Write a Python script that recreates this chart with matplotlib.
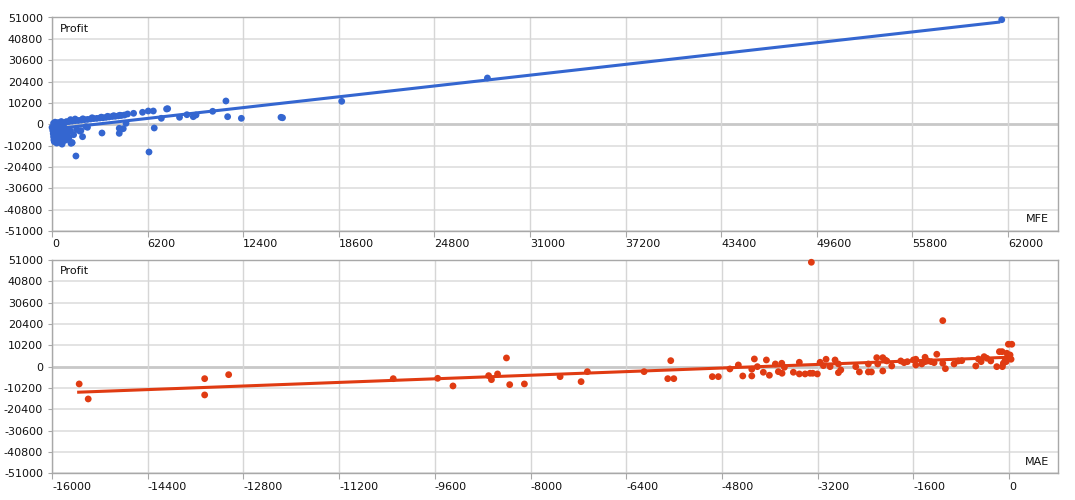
import numpy as np
import matplotlib
matplotlib.use('Agg')
import matplotlib.pyplot as plt

# MFE vs Profit (top panel)
mfe = [0, 50, 80, 100, 120, 150, 200, 250, 300, 350, 400, 450, 500, 550, 600, 650,
       700, 750, 800, 850, 900, 950, 100, 200, 300, 400, 600, 700, 900, 1000, 1100,
       1200, 1300, 150, 350, 550, 750, 250, 450, 650, 850,
       1550, 1230, 1400, 1600, 1800,
       900, 1100, 1300, 1500, 1700, 1900, 2100, 2300, 2500, 2700, 2900, 3100, 3300,
       3500, 3700, 3900, 4100, 4300, 4500, 4700, 1200, 1500, 2000, 2600, 3200, 3600, 4000, 4400,
       2200, 1870, 2300, 1980, 3240, 4360, 4470, 4620, 4800, 4360, 4900, 5290, 5870,
       6240, 6570, 7090, 7430, 7500, 8270, 8750, 9160, 9340, 10420, 11280, 11390,
       12280, 14850, 14950, 18790, 28240, 61600, 6290, 6630, 1290]
profit_mfe = [-1500, -3000, -4500, -6000, -7500, -8300, -2000, -500, -3500, -5200, -7000,
              -8500, -1000, -2800, -4800, -6500, -8300, 500, -3500, -5500, -7500, 1200,
              500, 1000, -9000, 800, 1300, -1800, -2500, -4200, -6300, -3200, -8800,
              -2500, 300, -400, -1200, -6800, -4000, -9500, -2200,
              -15170, -9100, -5000, -2500, -3300,
              1100, 1300, 1500, 1700, 1800, 2000, 2200, 2300, 2500, 2700, 2800, 3000, 3100,
              3300, 3500, 3700, 3800, 4000, 4200, 4400, 2200, 2500, 2600, 3100, 3400, 3800, 4100, 4300,
              -1170, -3080, -1460, -5950, -4180, -4350, -2420, -2120, 450, -1940, 4900,
              5230, 5710, 6330, 6330, 2840, 7290, 7430, 3320, 4560, 3610, 4420, 6190,
              11110, 3610, 2840, 3320, 3100, 10960, 22100, 49950, -13260, -1790, -8800]
trend_mfe_x = [250, 61500]
trend_mfe_y = [-2170, 48850]

# MAE vs Profit (bottom panel)
mae = [-15546, -15395, -13448, -13448, -13047, -10295, -9552, -9296, -8700, -8653,
       -8551, -8402, -8348, -8102, -7505, -7154, -7049, -6101, -5705, -5604, -5655,
       -4960, -4859, -4666, -4525, -4451, -4300, -4300, -4257, -4207, -4107, -4056,
       -4006, -3906, -3799, -3856, -3794, -3755, -3605, -3505, -3505, -3409, -3326,
       -3281, -3304, -3204, -3158, -3058, -3103, -2991, -2908, -2852, -2812, -2852,
       -2562, -2501, -2351, -2300, -2351, -2211, -2194, -2110, -2072, -2043, -2110,
       -1960, -1809, -1754, -1699, -1598, -1558, -1558, -1458, -1403, -1403, -1358,
       -1302, -1252, -1207, -1107, -1107, -1063, -918, -846, -789, -555, -512, -466,
       -416, -371, -304, -204, -110, -160, -115, -94, -65, -48, -10, 18, 35, -37, -10, 47]
profit_mae = [-8270, -15450, -5740, -13530, -3830, -5740, -5570, -9230, -4300, -6220,
              -3490, 4160, -8600, -8270, -4780, -7170, -2390, -2390, -5740, -5740, 2870,
              -4780, -4780, -1100, 810, -4450, -4450, -1240, 3680, 0, -2680, 3200,
              -4110, 1290, 1630, -2390, -3160, -290, -2680, 2100, -3490, -3490, -3160,
              -3160, 49920, -3490, 2100, 3540, 480, 0, 3200, 1290, -1580, -2870,
              0, -2530, -2530, -2530, 1290, 4300, 1290, 4300, 3200, 2730, -2060,
              330, 2730, 1910, 2390, 3200, 3540, 810, 1290, 4490, 2390, 2730,
              2390, 1910, 5930, 22000, 1630, -960, 1290, 2730, 2870, 330, 3680, 2390,
              4780, 4020, 2730, 0, 0, 7170, 7170, 1630, 2870, 2390, 4020, 5590, 3540, 6410, 10710, 10710]
trend_mae_x = [-15580, -10]
trend_mae_y = [-12240, 4490]

y_ticks = [51000, 40800, 30600, 20400, 10200, 0, -10200, -20400, -30600, -40800, -51000]
mfe_ticks = [0, 6200, 12400, 18600, 24800, 31000, 37200, 43400, 49600, 55800, 62000]
mae_ticks = [-16000, -14400, -12800, -11200, -9600, -8000, -6400, -4800, -3200, -1600, 0]

BLUE = '#3466d0'
RED = '#e03b12'

plt.rcParams['font.family'] = ['DejaVu Sans']
plt.rcParams['font.size'] = 8

fig = plt.figure(figsize=(10.75, 5), dpi=100)
ax1 = fig.add_axes([0.0484, 0.538, 0.9358, 0.427])
ax2 = fig.add_axes([0.0484, 0.0534, 0.9358, 0.4266])


def style_axis(ax, xticks, xlim, label):
    ax.set_xlim(*xlim)
    ax.set_ylim(-51000, 51000)
    ax.set_yticks(y_ticks)
    ax.set_yticklabels([str(v) for v in y_ticks])
    ax.set_xticks(xticks)
    ax.set_xticklabels([str(v) for v in xticks], ha='left')
    for v in y_ticks:
        if v == 0:
            ax.axhline(v, color='#c8c8c8', lw=2.0, zorder=1)
        else:
            ax.axhline(v, color='#e0e0e0', lw=1.3, zorder=1)
    for v in xticks:
        ax.axvline(v, color='#d6d6d6', lw=1.0, zorder=1)
    for s in ax.spines.values():
        s.set_color('#a8a8a8')
        s.set_linewidth(1.0)
    ax.tick_params(axis='x', length=4.5, width=0.8, color='#a8a8a8', pad=1.5,
                   labelcolor='#111111', labelsize=8)
    ax.tick_params(axis='y', length=3, width=0.8, color='#a8a8a8', pad=3.5,
                   labelcolor='#111111', labelsize=8)
    ax.text(0.008, 0.948, 'Profit', transform=ax.transAxes, ha='left', va='center',
            fontsize=8, color='#111111')
    ax.text(0.991, 0.055, label, transform=ax.transAxes, ha='right', va='center',
            fontsize=8, color='#111111')


style_axis(ax1, mfe_ticks, (0, 65250), 'MFE')
ax1.plot(trend_mfe_x, trend_mfe_y, color=BLUE, lw=2.2, zorder=3, solid_capstyle='butt')
ax1.scatter(mfe, profit_mfe, s=24, color=BLUE, edgecolors='none', zorder=4, clip_on=False)

style_axis(ax2, mae_ticks, (-16000, 820), 'MAE')
ax2.plot(trend_mae_x, trend_mae_y, color=RED, lw=2.2, zorder=3, solid_capstyle='butt')
ax2.scatter(mae, profit_mae, s=24, color=RED, edgecolors='none', zorder=4, clip_on=False)

fig.savefig('out.png', dpi=100)
